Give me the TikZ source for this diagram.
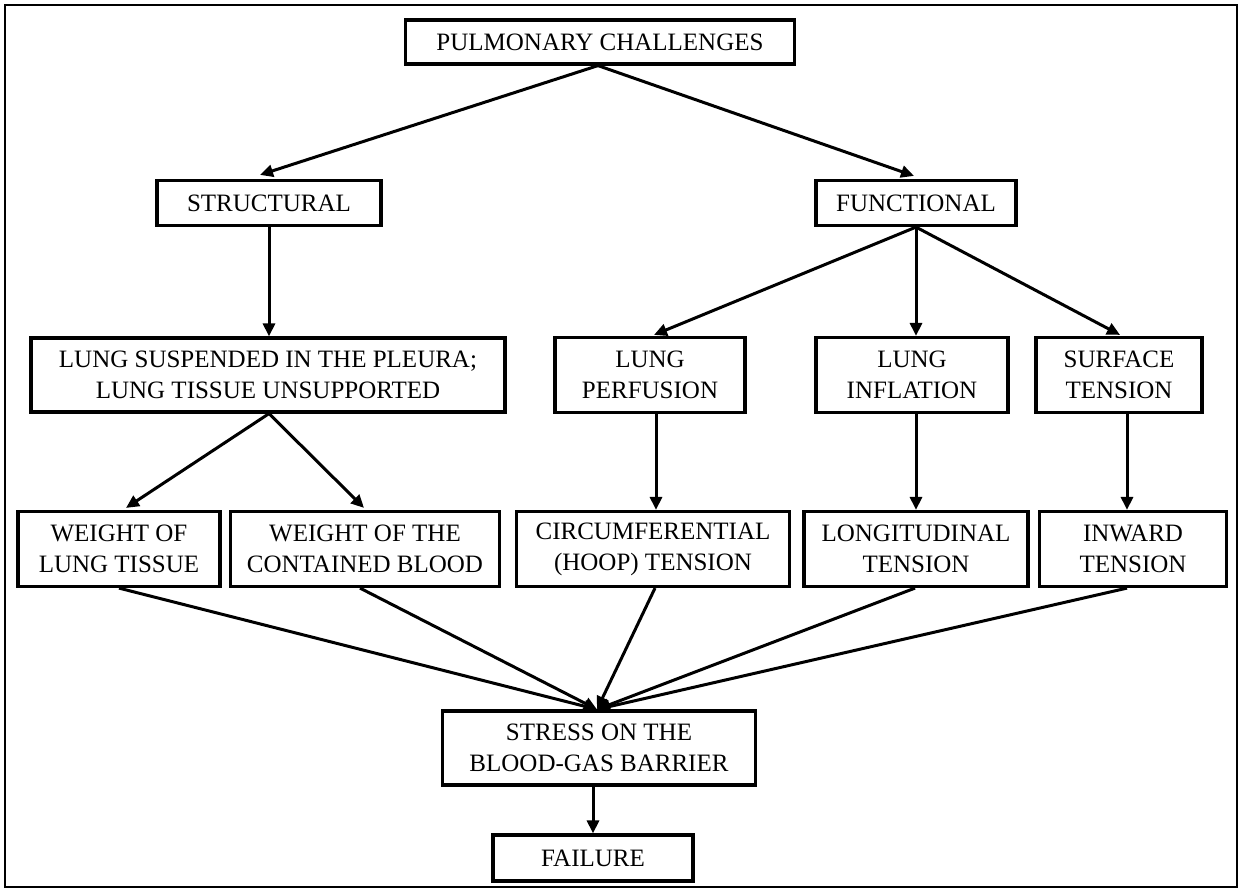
\documentclass[tikz,border=0pt]{standalone}
\usepackage{fontspec}
\setmainfont{Liberation Serif}
\usetikzlibrary{arrows.meta}
\begin{document}
\begin{tikzpicture}[x=1pt,y=-1pt,
  box/.style={draw, line width=3.2pt, align=center, inner sep=0pt,
    font=\fontsize{25}{31}\selectfont},
  arr/.style={line width=3pt, -{Triangle[length=13pt,width=12pt]}}]
\useasboundingbox (0,0) rectangle (1243,892);
\draw[line width=2.8pt] (5,5) rectangle (1237,887);

\node[box, minimum width=389, minimum height=44] (pc) at (600,42) {PULMONARY CHALLENGES};
\node[box, minimum width=224, minimum height=45] (st) at (269,203) {STRUCTURAL};
\node[box, minimum width=200, minimum height=45] (fn) at (916,203) {FUNCTIONAL};

\node[box, minimum width=474, minimum height=74] (ls) at (268,375) {LUNG SUSPENDED IN THE PLEURA;\\LUNG TISSUE UNSUPPORTED};
\node[box, minimum width=190, minimum height=75] (pf) at (650,375) {LUNG\\PERFUSION};
\node[box, minimum width=192, minimum height=75] (li) at (912,375) {LUNG\\INFLATION};
\node[box, minimum width=166, minimum height=75] (sf) at (1119,375) {SURFACE\\TENSION};

\node[box, minimum width=202, minimum height=75] (wl) at (119,549) {WEIGHT OF\\LUNG TISSUE};
\node[box, minimum width=269, minimum height=75] (wb) at (365,549) {WEIGHT OF THE\\CONTAINED BLOOD};
\node[box, minimum width=273, minimum height=75] (cf) at (653,549) {CIRCUMFERENTIAL\\(HOOP) TENSION};
\node[box, minimum width=224, minimum height=75] (lg) at (916,549) {LONGITUDINAL\\TENSION};
\node[box, minimum width=187, minimum height=75] (iw) at (1133,549) {INWARD\\TENSION};

\node[box, minimum width=313, minimum height=74] (ss) at (599,748) {STRESS ON THE\\BLOOD-GAS BARRIER};
\node[box, minimum width=200, minimum height=46] (fl) at (593,858) {FAILURE};

\draw[arr] ([xshift=-2pt]pc.south) -- ([xshift=-9pt,yshift=4pt]st.north);
\draw[arr] ([xshift=-2pt]pc.south) -- ([xshift=-2pt,yshift=3pt]fn.north);

\draw[arr] (st.south) -- (st.south |- ls.north);

\draw[arr] (fn.south) -- ([xshift=4pt,yshift=1pt]pf.north);
\draw[arr] (fn.south) -- (fn.south |- li.north);
\draw[arr] (fn.south) -- ([xshift=1pt,yshift=1pt]sf.north);

\draw[arr] ([xshift=1pt]ls.south) -- ([xshift=7pt,yshift=2pt]wl.north);
\draw[arr] ([xshift=1pt]ls.south) -- ([xshift=-1pt,yshift=2pt]wb.north);

\draw[arr] ([xshift=6pt]pf.south) -- ([xshift=6pt]pf.south |- cf.north);
\draw[arr] ([xshift=4pt]li.south) -- ([xshift=4pt]li.south |- lg.north);
\draw[arr] ([xshift=8pt]sf.south) -- ([xshift=8pt]sf.south |- iw.north);

\draw[arr] (wl.south) -- ([xshift=-2pt]ss.north);
\draw[arr] ([xshift=-5pt]wb.south) -- ([xshift=-2pt]ss.north);
\draw[arr] ([xshift=2pt]cf.south) -- ([xshift=-2pt]ss.north);
\draw[arr] ([xshift=-1pt]lg.south) -- ([xshift=-2pt]ss.north);
\draw[arr] ([xshift=-6pt]iw.south) -- ([xshift=-2pt]ss.north);

\draw[arr] ([xshift=-6pt]ss.south) -- ([xshift=-6pt]ss.south |- fl.north);
\end{tikzpicture}
\end{document}
